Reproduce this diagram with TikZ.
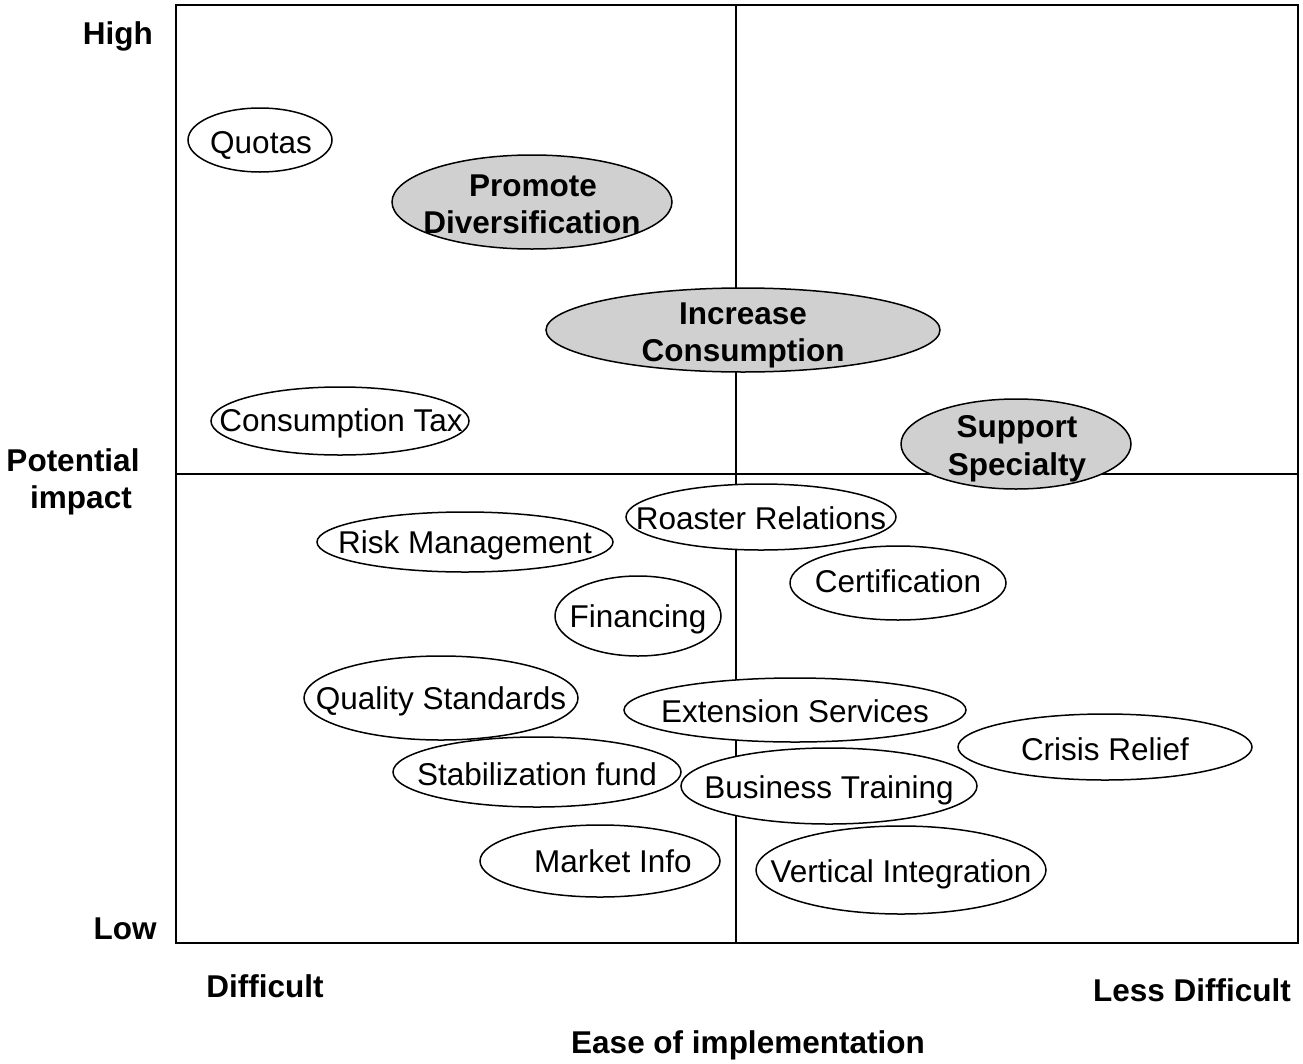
\documentclass[tikz,border=0pt]{standalone}
\usepackage{fontspec}
\setmainfont{Liberation Sans}
\definecolor{bubblegray}{RGB}{208,208,208}
\begin{document}
\begin{tikzpicture}[x=1pt,y=-1pt,
  every node/.style={font=\fontsize{31.5}{37}\selectfont, inner sep=0pt, anchor=base},
  bubble/.style={draw=black, line width=1.5pt, fill=white},
  keybubble/.style={draw=black, line width=1.5pt, fill=bubblegray},
  axislabel/.style={font=\fontsize{31.5}{37}\selectfont\bfseries},
  frame/.style={draw=black, line width=2pt},
  divider/.style={draw=black, line width=1.5pt}]
\useasboundingbox (0,0) rectangle (1303,1063);

% quadrant frame and dividers
\coordinate (tl) at (176,5);
\coordinate (br) at (1298,943);
\coordinate (vtop) at (736,5);
\coordinate (vbot) at (736,943);
\coordinate (hleft) at (176,474);
\coordinate (hright) at (1298,474);
\draw[divider] (vtop) -- (vbot);
\draw[divider] (hleft) -- (hright);
\draw[frame] (tl) rectangle (br);

% options
\path[bubble] (260,140) ellipse (72 and 32);
\node (quotas) at (261,153) {Quotas};

\path[keybubble] (532,202) ellipse (140 and 47);
\node[axislabel] (pd1) at (533,196) {Promote};
\node[axislabel] (pd2) at (532,233) {Diversification};

\path[keybubble] (743,330) ellipse (197 and 42);
\node[axislabel] (ic1) at (743,324) {Increase};
\node[axislabel] (ic2) at (743,361) {Consumption};

\path[bubble] (340,421) ellipse (129 and 34);
\node (ctax) at (341,431) {Consumption Tax};

\path[keybubble] (1016,444) ellipse (115 and 45);
\node[axislabel] (ss1) at (1017,437) {Support};
\node[axislabel] (ss2) at (1017,475) {Specialty};

\path[bubble] (761,517) ellipse (135 and 33);
\node (roaster) at (761,529) {Roaster Relations};

\path[bubble] (465,542) ellipse (148 and 30);
\node (risk) at (465,553) {Risk Management};

\path[bubble] (898,583) ellipse (108 and 37);
\node (cert) at (898,592) {Certification};

\path[bubble] (638,616) ellipse (83 and 40);
\node (fin) at (638,627) {Financing};

\path[bubble] (441,698) ellipse (137 and 42);
\node (quality) at (441,709) {Quality Standards};

\path[bubble] (795,710) ellipse (171 and 32);
\node (ext) at (795,722) {Extension Services};

\path[bubble] (1105,747) ellipse (147 and 33);
\node (crisis) at (1105,760) {Crisis Relief};

\path[bubble] (537,772) ellipse (144 and 35);
\node (stab) at (537,785) {Stabilization fund};

\path[bubble] (829,786) ellipse (148 and 38);
\node (biz) at (829,798) {Business Training};

\path[bubble] (600,861) ellipse (120 and 36);
\node (market) at (613,872) {Market Info};

\path[bubble] (901,870) ellipse (145 and 44);
\node (vert) at (901,882) {Vertical Integration};

% axis labels
\node[axislabel, anchor=base east] (high) at (153,44) {High};
\node[axislabel] (pot1) at (73,471) {Potential};
\node[axislabel] (pot2) at (81,508) {impact};
\node[axislabel] (low) at (125,939) {Low};
\node[axislabel] (diff) at (265,997) {Difficult};
\node[axislabel] (ldiff) at (1192,1001) {Less Difficult};
\node[axislabel] (ease) at (748,1053) {Ease of implementation};
\end{tikzpicture}
\end{document}
